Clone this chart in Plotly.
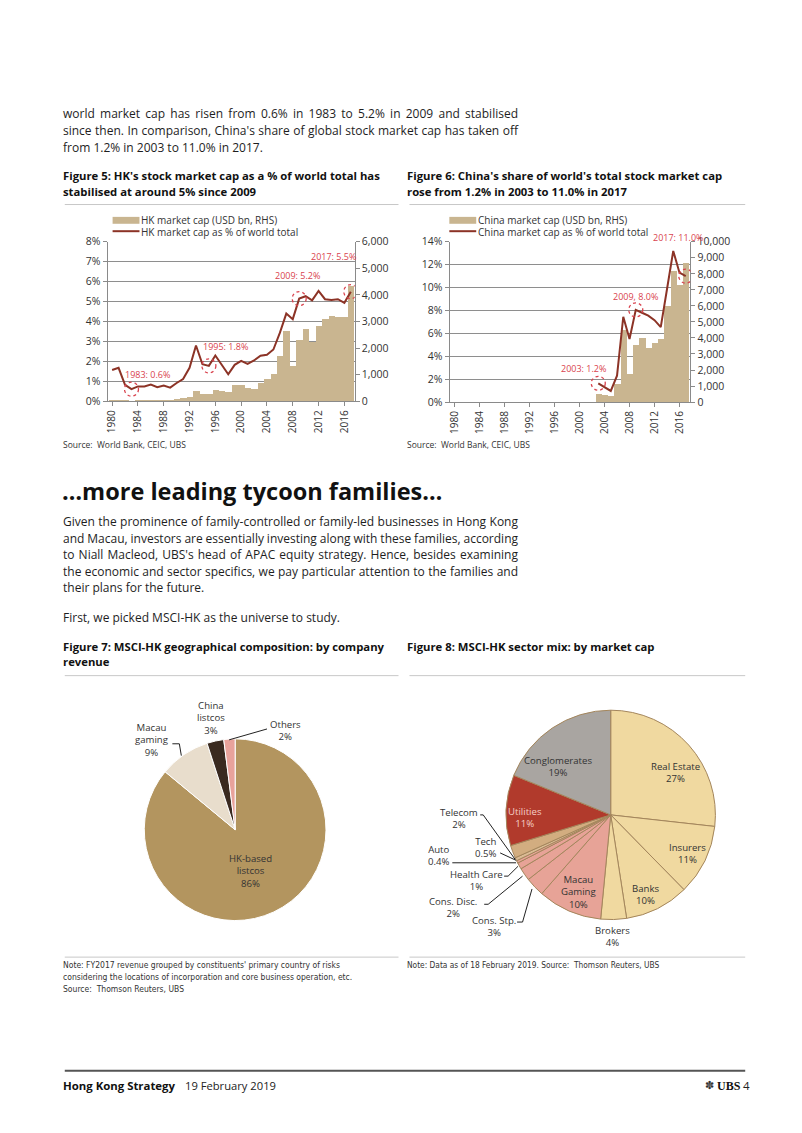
import json
import plotly.graph_objects as go

# ---------------- data ----------------
years = list(range(1980, 2018))
hk_cap = [39, 39, 23, 17, 24, 35, 54, 54, 74, 77, 83, 122, 172, 385, 270, 304, 449, 413, 343,
          609, 623, 506, 463, 715, 861, 1055, 1715, 2654, 1329, 2305, 2711, 2258, 2832, 3101,
          3233, 3185, 3193, 4351]
hk_share = [1.57, 1.68, 0.83, 0.61, 0.75, 0.75, 0.84, 0.71, 0.79, 0.69, 0.92, 1.12, 1.68, 2.80,
            1.86, 1.78, 2.30, 1.82, 1.36, 1.83, 2.03, 1.88, 2.05, 2.29, 2.34, 2.60, 3.43, 4.40,
            4.12, 5.15, 5.27, 5.06, 5.54, 5.12, 5.08, 5.12, 4.94, 5.50]
cn_cap = [None] * 23 + [513, 440, 402, 1146, 4480, 1778, 3573, 4028, 3412, 3697, 3949, 6004,
                        8188, 7321, 8711]
cn_share = [None] * 23 + [1.64, 1.32, 0.97, 2.30, 7.45, 5.50, 8.05, 7.80, 7.55, 7.15, 6.55,
                          9.85, 13.2, 11.3, 11.0]
x_ticks = list(range(1980, 2017, 4))

hk_bar_name = "HK market cap (USD bn, RHS)"
hk_line_name = "HK market cap as % of world total"
cn_bar_name = "China market cap (USD bn, RHS)"
cn_line_name = "China market cap as % of world total"

hk_marks_years = [1983, 1995, 2009, 2017]
hk_marks_text = ["1983: 0.6%", "1995: 1.8%", "2009: 5.2%", "2017: 5.5%"]
cn_marks_years = [2003, 2009, 2017]
cn_marks_text = ["2003: 1.2%", "2009, 8.0%", "2017: 11.0%"]

geo_labels = ["HK-based<br>listcos", "Macau<br>gaming", "China<br>listcos", "Others"]
geo_values = [86, 9, 3, 2]
sector_labels = ["Real Estate", "Insurers", "Banks", "Brokers", "Macau<br>Gaming", "Cons. Stp.",
                 "Cons. Disc.", "Health Care", "Auto", "Tech", "Telecom", "Utilities",
                 "Conglomerates"]
sector_values = [27, 11, 10, 4, 10, 3, 2, 1, 0.4, 0.5, 2, 11, 19]

# ---------------- styles ----------------
W, H = 802, 1133
FONT = "Open Sans, Noto Sans, sans-serif"
NARROW = "Liberation Sans Narrow, DejaVu Sans Condensed, Open Sans, sans-serif"
TXT = "#1e1e1e"
BAR = "#c9b590"
LINE = "#8c3326"
RED = "#d9434e"
GRID = "#8e8e8e"
AX = "#8a8a8a"
PAD = 3  # annotation inner offset


def X(p):
    return p / W


def Y(p):
    return 1 - p / H


fig = go.Figure()

# Chart 1 (HK)
fig.add_trace(go.Bar(x=years, y=hk_cap, name=hk_bar_name, marker=dict(color=BAR, line=dict(width=0)),
                     xaxis="x", yaxis="y"))
fig.add_trace(go.Scatter(x=years, y=hk_share, name=hk_line_name, mode="lines",
                         line=dict(color=LINE, width=2), xaxis="x", yaxis="y2"))
# Chart 2 (China)
fig.add_trace(go.Bar(x=years, y=cn_cap, name=cn_bar_name, marker=dict(color=BAR, line=dict(width=0)),
                     xaxis="x2", yaxis="y3"))
fig.add_trace(go.Scatter(x=years, y=cn_share, name=cn_line_name, mode="lines",
                         line=dict(color=LINE, width=2), xaxis="x2", yaxis="y4"))

# Pies
geo_colors = ["#b3955f", "#e8ddcc", "#3a2a20", "#e8a29b"]
fig.add_trace(go.Pie(labels=geo_labels, values=geo_values, sort=False, direction="clockwise",
                     rotation=0, textinfo="none", hoverinfo="label+percent",
                     marker=dict(colors=geo_colors, line=dict(color="white", width=1)),
                     domain=dict(x=[X(141), X(325)], y=[Y(925), Y(741)])))
sector_colors = ["#f0d9a0", "#f0d9a0", "#f0d9a0", "#f0d9a0", "#e7a397", "#e7a397", "#e7a397",
                 "#e7a397", "#e7a397", "#dcbc96", "#d2ad80", "#b13a2c", "#a9a5a1"]
fig.add_trace(go.Pie(labels=sector_labels, values=sector_values, sort=False, direction="clockwise",
                     rotation=0, textinfo="none", hoverinfo="label+percent",
                     marker=dict(colors=sector_colors, line=dict(color="#a4865c", width=1)),
                     domain=dict(x=[X(504), X(716)], y=[Y(924), Y(712)])))

tickfont = dict(family=FONT, size=10.5, color="#333")
common_x = dict(tickvals=x_ticks, tickangle=-90, ticks="outside", ticklen=4, tickcolor=AX,
                showline=True, linecolor=AX, linewidth=1, showgrid=False, zeroline=False,
                tickfont=dict(family=FONT, size=10, color="#333"))
common_y = dict(ticks="outside", ticklen=4, tickcolor=AX, showline=True, linecolor=AX,
                linewidth=1, zeroline=False, tickfont=tickfont)

fig.update_layout(
    width=W, height=H, margin=dict(l=0, r=0, t=0, b=0),
    paper_bgcolor="white", plot_bgcolor="rgba(0,0,0,0)",
    showlegend=False, bargap=0,
    xaxis=dict(domain=[X(105), X(353)], anchor="y", range=[1979.3, 2017.6], **common_x),
    yaxis=dict(domain=[Y(399.3), Y(237.7)], anchor="x", side="right", range=[0, 6000],
               dtick=1000, tickformat=",", showgrid=False, **common_y),
    yaxis2=dict(overlaying="y", anchor="x", side="left", range=[0, 8], dtick=1,
                ticksuffix="%", showgrid=True, gridcolor=GRID, gridwidth=1, **common_y),
    xaxis2=dict(domain=[X(448.3), X(690)], anchor="y3", range=[1979.2, 2017.75], **common_x),
    yaxis3=dict(domain=[Y(400), Y(237.7)], anchor="x2", side="right", range=[0, 10000],
                dtick=1000, tickformat=",", showgrid=False, **common_y),
    yaxis4=dict(overlaying="y3", anchor="x2", side="left", range=[0, 14], dtick=2,
                ticksuffix="%", showgrid=True, gridcolor=GRID, gridwidth=1, **common_y),
)

ann = []
shapes = []


def text(x, y, s, size=12, color=TXT, family=FONT, xanchor="left", align="left"):
    if xanchor == "left":
        x = x - PAD
    elif xanchor == "right":
        x = x + PAD
    ann.append(dict(x=X(x), y=Y(y), xref="paper", yref="paper", text=s, showarrow=False,
                    xanchor=xanchor, yanchor="middle", align=align, borderpad=0,
                    font=dict(family=family, size=size, color=color)))


def hline(x0, x1, y, color="#c8c8c8", width=1):
    shapes.append(dict(type="line", xref="paper", yref="paper", x0=X(x0), x1=X(x1),
                       y0=Y(y), y1=Y(y), line=dict(color=color, width=width)))


def path(points, color="#222", width=1):
    d = "M " + " L ".join(f"{X(a):.5f},{Y(b):.5f}" for a, b in points)
    shapes.append(dict(type="path", xref="paper", yref="paper", path=d,
                       line=dict(color=color, width=width)))


BODY = 12
# ---- body text ----
para1 = ["world market cap has risen from 0.6% in 1983 to 5.2% in 2009 and stabilised",
         "since then. In comparison, China's share of global stock market cap has taken off",
         "from 1.2% in 2003 to 11.0% in 2017."]
for i, s in enumerate(para1):
    text(62, 108 + 17 * i, s, size=BODY)

TT = 11.3
text(62, 171, "<b>Figure 5: HK's stock market cap as a % of world total has</b>", size=TT, color="#111")
text(62, 187, "<b>stabilised at around 5% since 2009</b>", size=TT, color="#111")
text(408, 171, "<b>Figure 6: China's share of world's total stock market cap</b>", size=TT, color="#111")
text(408, 187, "<b>rose from 1.2% in 2003 to 11.0% in 2017</b>", size=TT, color="#111")
hline(62, 397, 200)
hline(408, 745, 200)

# legends
for lx, bname, lname in [(110, hk_bar_name, hk_line_name), (448, cn_bar_name, cn_line_name)]:
    shapes.append(dict(type="rect", xref="paper", yref="paper", x0=X(lx), x1=X(lx + 27),
                       y0=Y(219.5), y1=Y(212.5), fillcolor=BAR, line=dict(width=0)))
    shapes.append(dict(type="line", xref="paper", yref="paper", x0=X(lx), x1=X(lx + 27),
                       y0=Y(227), y1=Y(227), line=dict(color=LINE, width=2)))
    text(lx + 31, 215.5, bname, size=10, color="#333")
    text(lx + 31, 227.5, lname, size=10, color="#333")


# highlights
def marks(yrs, labels, share, xa, ya, offsets):
    for yr, lab, (dx, dy) in zip(yrs, labels, offsets):
        v = share[years.index(yr)]
        shapes.append(dict(type="circle", xref=xa, yref=ya, xsizemode="pixel", ysizemode="pixel",
                           xanchor=yr, yanchor=v, x0=-7, x1=7, y0=-7, y1=7,
                           line=dict(color=RED, width=1.3, dash="dot")))
        ann.append(dict(x=yr, y=v, xref=xa, yref=ya, text=lab, showarrow=False,
                        xshift=dx, yshift=dy, font=dict(family=FONT, size=9, color=RED)))


marks(hk_marks_years, hk_marks_text, hk_share, "x", "y2", [(16, 15), (17, 19), (-2, 23), (-17, 35)])
marks(cn_marks_years, cn_marks_text, cn_share, "x2", "y4", [(-15, 15), (0, 13), (-7, 39)])

text(62, 443, "Source:  World Bank, CEIC, UBS", size=8.5, color="#333")
text(408, 443, "Source:  World Bank, CEIC, UBS", size=8.5, color="#333")

# heading & paragraph
text(61, 490, "<b>\u2026more leading tycoon families\u2026</b>", size=23.5, color="#111")
para2 = ["Given the prominence of family-controlled or family-led businesses in Hong Kong",
         "and Macau, investors are essentially investing along with these families, according",
         "to Niall Macleod, UBS's head of APAC equity strategy. Hence, besides examining",
         "the economic and sector specifics, we pay particular attention to the families and",
         "their plans for the future."]
for i, s in enumerate(para2):
    text(62, 521 + 16.8 * i, s, size=BODY)
text(62, 618, "First, we picked MSCI-HK as the universe to study.", size=BODY)

text(62, 647, "<b>Figure 7: MSCI-HK geographical composition: by company</b>", size=TT, color="#111")
text(62, 663, "<b>revenue</b>", size=TT, color="#111")
text(408, 647, "<b>Figure 8: MSCI-HK sector mix: by market cap</b>", size=TT, color="#111")
hline(62, 397, 677)
hline(408, 745, 677)


# pie labels
def pct(v):
    return f"{v:g}%"


PL = 9.6
geo_pos = [(248, 875), (150, 742), (209, 720), (284, 733)]
for lab, v, (x, y) in zip(geo_labels, geo_values, geo_pos):
    text(x, y, f"{lab}<br>{pct(v)}", size=PL, color="#333", xanchor="center", align="center")
path([(170, 746), (177, 746), (179, 758)])
path([(227, 742), (265, 731)])

sec_pos = [(675, 775), (687, 857), (645, 899), (612, 941), (578, 896), (493, 930.5),
           (452, 911.5), (475, 884), (438, 859.5), (484, 851.5), (458, 821.5), (524, 820.5),
           (557, 769)]
for lab, v, (x, y) in zip(sector_labels, sector_values, sec_pos):
    col = "#f5cfc6" if lab == "Utilities" else "#333"
    text(x, y, f"{lab}<br>{pct(v)}", size=PL, color=col, xanchor="center", align="center")
path([(479, 818), (482, 818), (514, 863)])
path([(499, 856.5), (515, 864)])
path([(451, 866.5), (515, 866.5)])
path([(503, 880), (507, 880), (517, 870)])
path([(483, 908.5), (487, 908.5), (521.5, 880)])
path([(516, 926.5), (521.5, 926.5), (531, 893)])

# notes
hline(62, 397, 962)
hline(408, 745, 962)
notes7 = ["Note: FY2017 revenue grouped by constituents' primary country of risks",
          "considering the locations of incorporation and core business operation, etc.",
          "Source:  Thomson Reuters, UBS"]
for i, s in enumerate(notes7):
    text(62, 970 + 12 * i, s, size=8.5, color="#333", family=NARROW)
text(408, 970, "Note: Data as of 18 February 2019. Source:  Thomson Reuters, UBS", size=8.3,
     color="#333", family=NARROW)

# footer
hline(62, 745, 1077, color="#555", width=2)
text(62, 1092, "<b>Hong Kong Strategy</b>", size=11.4, color="#111")
text(185, 1092, "19 February 2019", size=11.2, color="#222")
text(712, 1092, "\u273D", size=11, color="#333", family="DejaVu Sans", xanchor="right")
text(739, 1092, "<b>UBS</b>", size=12, color="#111", family="Liberation Serif", xanchor="right")
text(748, 1092, "4", size=11.5, color="#222", xanchor="right")

fig.update_layout(annotations=ann, shapes=shapes)

# justify full paragraph lines (all except the last line of each paragraph)
justified = para1[:-1] + para2[:-1]
TARGET_WIDTH = 455
post = """
var J = %s;
var T = %d;
var els = document.querySelectorAll('.annotation-text');
els.forEach(function(el){
  var t = el.textContent;
  if (J.indexOf(t) < 0) return;
  var n = (t.match(/ /g) || []).length;
  if (!n) return;
  var w = el.getComputedTextLength();
  var ws = (T - w) / n;
  el.style.wordSpacing = ws + 'px';
});
document.body.style.margin = '0';
""" % (json.dumps(justified), TARGET_WIDTH)

fig.write_html("out.html", include_plotlyjs=True, config={"displayModeBar": False},
               post_script=post)
